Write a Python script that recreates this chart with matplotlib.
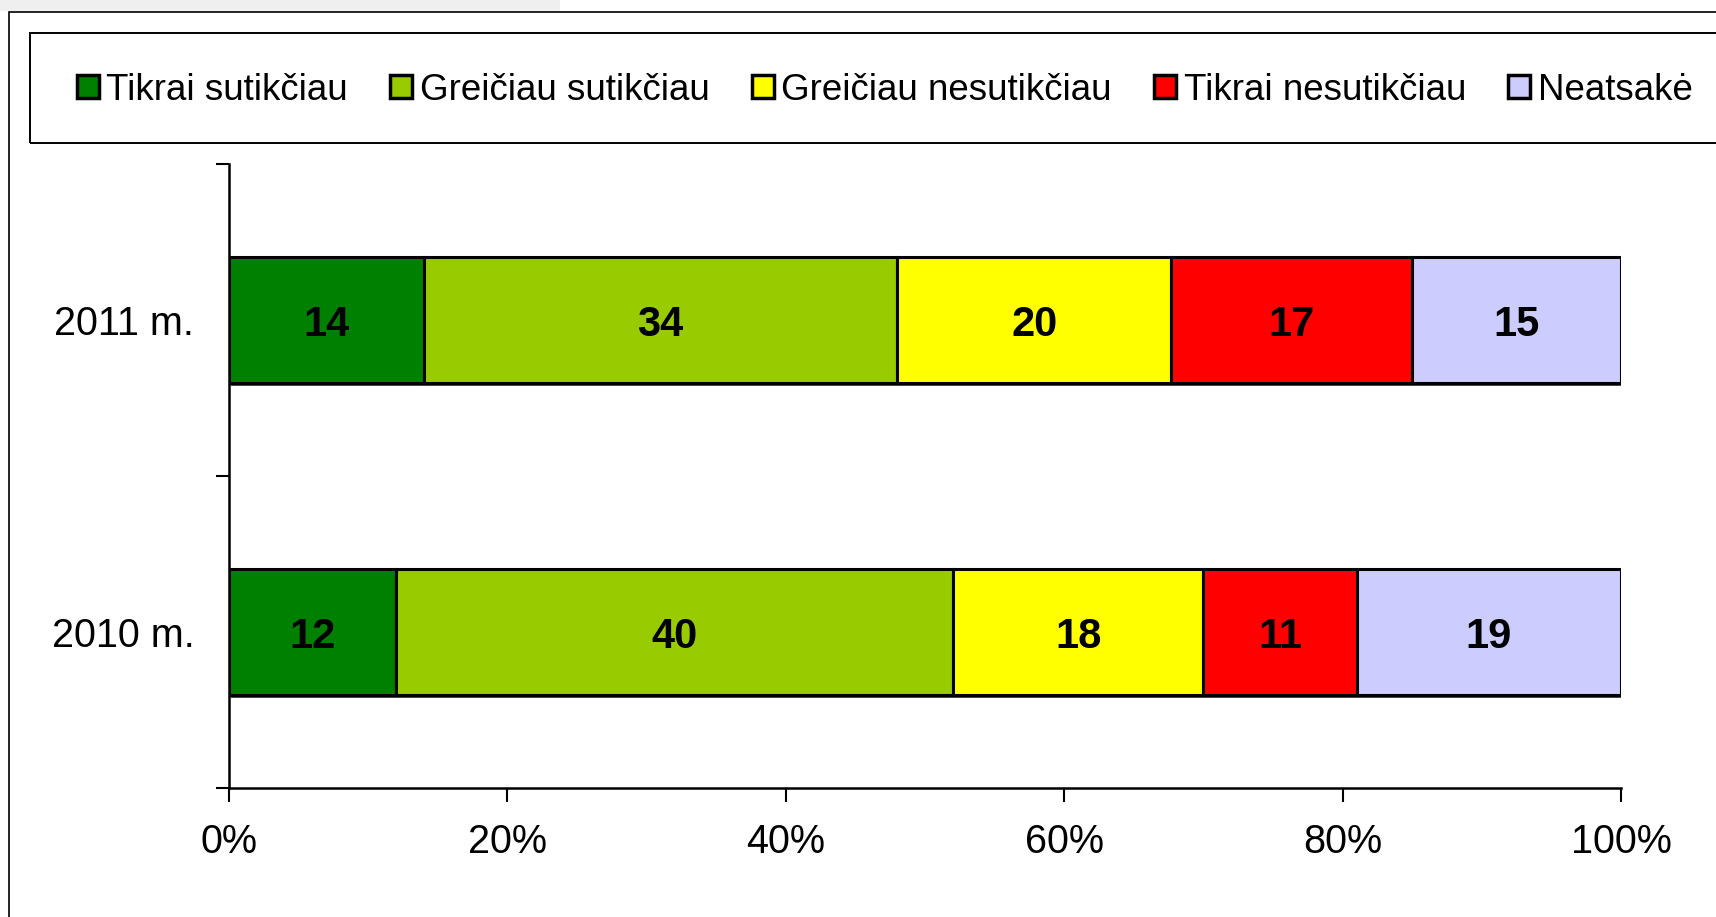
import matplotlib
matplotlib.use("Agg")
import matplotlib.pyplot as plt
from matplotlib.patches import Rectangle
import matplotlib.patheffects as pe
import numpy as np

plt.rcParams['font.family'] = ['Liberation Sans', 'DejaVu Sans']

years = ['2010 m.', '2011 m.']
series_names = ['Tikrai sutikčiau', 'Greičiau sutikčiau', 'Greičiau nesutikčiau',
                'Tikrai nesutikčiau', 'Neatsakė']
tikrai_sutikciau = [12, 14]
greiciau_sutikciau = [40, 34]
greiciau_nesutikciau = [18, 19.7]
tikrai_nesutikciau = [11, 17.3]
neatsake = [19, 15]
colors = ['#008000', '#99CC00', '#FFFF00', '#FF0000', '#CCCCFF']
xtick_labels = ['0%', '20%', '40%', '60%', '80%', '100%']

W, H = 1716, 917
fig = plt.figure(figsize=(W / 100, H / 100), dpi=100)

# background strip and outer frame
fig.patches.append(Rectangle((0, 1 - 11 / H), 560 / W, 11 / H, transform=fig.transFigure,
                             facecolor='#efefef', edgecolor='none', zorder=0))
fig.patches.append(Rectangle((9 / W, -0.05), 1.2, 1 - 12 / H + 0.05, transform=fig.transFigure,
                             facecolor='none', edgecolor='black', linewidth=1.2, zorder=1))
# legend frame
fig.patches.append(Rectangle((30 / W, 1 - 143 / H), 1.2, (143 - 33) / H, transform=fig.transFigure,
                             facecolor='none', edgecolor='black', linewidth=1.4, zorder=1))

ax = fig.add_axes([229 / W, (917 - 788) / H, (1621 - 229) / W, (788 - 164) / H])

data = [tikrai_sutikciau, greiciau_sutikciau, greiciau_nesutikciau, tikrai_nesutikciau, neatsake]
y = np.arange(len(years))
left = np.zeros(len(years))
handles = []
for name, vals, col in zip(series_names, data, colors):
    vals = np.array(vals, dtype=float)
    bars = ax.barh(y, vals, left=left, height=0.404, color=col, edgecolor='black',
                   linewidth=2.2, label=name, zorder=3)
    for b in bars:
        b.set_path_effects([pe.SimplePatchShadow(offset=(1.5, -2.0), shadow_rgbFace='#333333', alpha=0.9),
                            pe.Normal()])
    for yi, l, v in zip(y, left, vals):
        ax.text(l + v / 2, yi, f'{v:.0f}', ha='center', va='center_baseline',
                fontsize=30, fontweight='bold', color='black', zorder=4)
    left += vals
    handles.append(Rectangle((0, 0), 1, 1, facecolor=col, edgecolor='black', linewidth=2.5))

ax.set_xlim(0, 100)
ax.set_ylim(-0.5, len(years) - 0.5)
ax.set_xticks(np.linspace(0, 100, 6))
ax.set_xticklabels(xtick_labels, fontsize=28.5)
ax.tick_params(axis='x', direction='out', length=10, width=1.5, pad=15, color='black')

ax.set_yticks(np.arange(-0.5, len(years), 1.0))
ax.set_yticklabels([])
ax.tick_params(axis='y', which='major', direction='out', length=9.5, width=1.5)
ax.set_yticks(y, minor=True)
ax.set_yticklabels(years, minor=True, fontsize=28.5)
ax.tick_params(axis='y', which='minor', length=0, pad=25)

for s in ['top', 'right']:
    ax.spines[s].set_visible(False)
for s in ['left', 'bottom']:
    ax.spines[s].set_linewidth(1.8)
    ax.spines[s].set_color('black')

leg = fig.legend(handles, series_names, loc='center left',
                 bbox_to_anchor=(77 / W, 1 - 90 / H), ncol=5, frameon=False,
                 fontsize=26.5, handlelength=0.6, handleheight=0.6, handletextpad=0.2,
                 columnspacing=1.15, borderpad=0, borderaxespad=0)

fig.savefig('out.png', dpi=100, facecolor='white')
